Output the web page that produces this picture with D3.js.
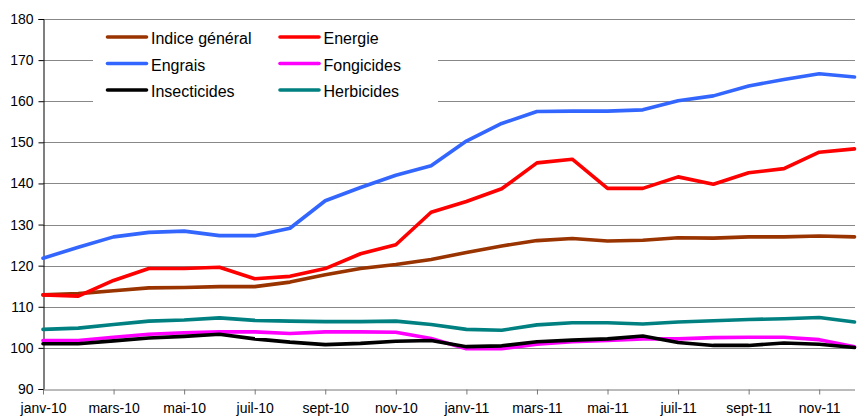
<!DOCTYPE html>
<html><head><meta charset="utf-8">
<script src="https://cdn.jsdelivr.net/npm/d3@7"></script>
<style>
body{margin:0;background:#fff;}
svg{display:block;font-family:Arial,"Liberation Sans",sans-serif;}
</style></head>
<body><svg id="c" width="858" height="416"></svg>
<script>
const months = ["janv-10","févr-10","mars-10","avr-10","mai-10","juin-10","juil-10","août-10","sept-10","oct-10","nov-10","déc-10",
                "janv-11","févr-11","mars-11","avr-11","mai-11","juin-11","juil-11","août-11","sept-11","oct-11","nov-11","déc-11"];
const indiceGeneral = [112.9,113.2,113.9,114.6,114.7,114.9,114.9,116.0,117.8,119.3,120.3,121.5,123.2,124.8,126.1,126.6,126.0,126.2,126.8,126.7,127.0,127.0,127.2,127.0];
const energie      = [112.9,112.6,116.4,119.3,119.3,119.6,116.8,117.4,119.3,122.9,125.1,133.0,135.6,138.7,145.0,145.9,138.8,138.8,141.6,139.8,142.6,143.6,147.6,148.4];
const engrais      = [121.8,124.5,127.0,128.1,128.4,127.3,127.3,129.1,135.8,139.0,142.0,144.3,150.3,154.6,157.5,157.6,157.6,157.9,160.1,161.3,163.7,165.3,166.7,165.9];
const fongicides   = [101.8,101.8,102.6,103.3,103.7,103.9,103.9,103.5,103.9,103.9,103.8,102.3,99.8,99.8,100.9,101.5,101.8,102.2,102.2,102.5,102.6,102.6,102.0,100.3];
const insecticides = [101.0,101.0,101.7,102.4,102.8,103.3,102.2,101.4,100.8,101.1,101.6,101.8,100.3,100.5,101.5,101.9,102.2,102.9,101.3,100.6,100.6,101.2,100.9,100.1];
const herbicides   = [104.5,104.8,105.7,106.5,106.8,107.3,106.7,106.5,106.4,106.4,106.5,105.7,104.5,104.3,105.6,106.1,106.1,105.8,106.3,106.6,106.9,107.1,107.4,106.3];
const seriesNames  = ["Indice général","Energie","Engrais","Fongicides","Insecticides","Herbicides"];
const seriesColors = ["#993300","#FF0000","#3366FF","#FF00FF","#000000","#008080"];
const yTicks = [90,100,110,120,130,140,150,160,170,180];
const xTickLabels = months.filter((m,i)=>i%2===0);

const seriesData = [indiceGeneral, energie, engrais, fongicides, insecticides, herbicides];

const svg = d3.select("#c");
const x = d3.scalePoint().domain(months).range([43, 854.5]);
const y = d3.scaleLinear().domain([90,180]).range([389, 19]);

// gridlines
svg.append("g").selectAll("line").data(yTicks.filter(t=>t>90)).join("line")
  .attr("x1",43).attr("x2",855).attr("y1",d=>Math.round(y(d))+0.5).attr("y2",d=>Math.round(y(d))+0.5)
  .attr("stroke","#888").attr("stroke-width",1);

// legend background (hides gridlines)
svg.append("rect").attr("x",93).attr("y",24).attr("width",345).attr("height",84).attr("fill","#fff");

// y axis
const ya = svg.append("g").attr("transform","translate(43.5,0)")
  .call(d3.axisLeft(y).tickValues(yTicks).tickSize(5).tickPadding(5).tickFormat(d3.format("d")));
ya.select(".domain").attr("stroke","#000");
ya.selectAll(".tick line").attr("stroke","#000");
ya.selectAll("text").attr("font-size",14).attr("fill","#000").attr("font-family","Arial, 'Liberation Sans', sans-serif");

// x axis
const xa = svg.append("g").attr("transform","translate(0,389.5)")
  .call(d3.axisBottom(x).tickValues(xTickLabels).tickSize(5).tickSizeOuter(0).tickPadding(9));
xa.select(".domain").attr("stroke","#777");
xa.selectAll(".tick line").attr("stroke","#777");
xa.selectAll("text").attr("font-size",14).attr("fill","#000").attr("font-family","Arial, 'Liberation Sans', sans-serif");

// lines
const line = d3.line().x((d,i)=>x(months[i])).y(d=>y(d));
const order = [0,1,2,5,3,4];
order.forEach(k=>{
  svg.append("path").datum(seriesData[k]).attr("d",line)
    .attr("fill","none").attr("stroke",seriesColors[k]).attr("stroke-width",3.6)
    .attr("stroke-linejoin","round").attr("stroke-linecap","round");
});

// legend
const legCols = [[107.5,151],[280,323.5]];
const legRows = [37,63.5,90];
seriesNames.forEach((n,i)=>{
  const col = legCols[i%2], row = legRows[Math.floor(i/2)];
  svg.append("line").attr("x1",col[0]).attr("x2",col[0]+39).attr("y1",row).attr("y2",row)
    .attr("stroke",seriesColors[i]).attr("stroke-width",3.6).attr("stroke-linecap","round");
  svg.append("text").attr("x",col[1]).attr("y",row+7).attr("font-size",16).attr("fill","#000").text(n);
});
</script></body></html>
